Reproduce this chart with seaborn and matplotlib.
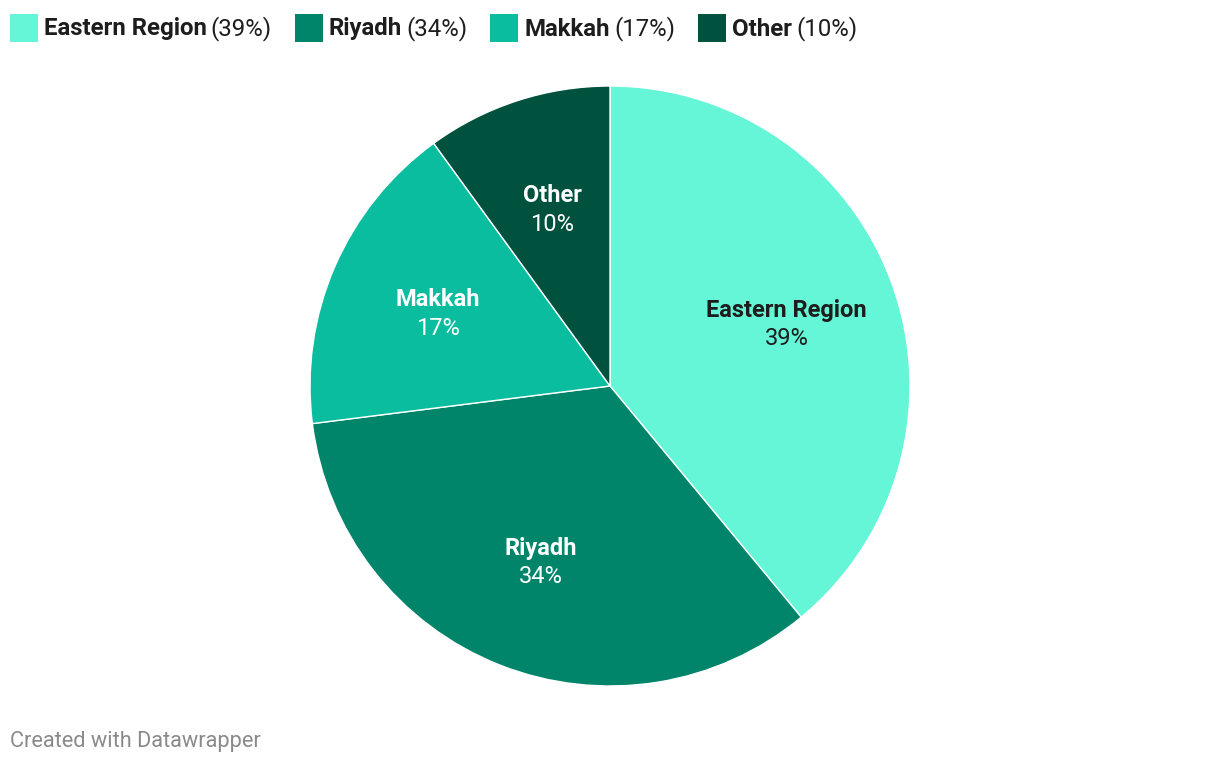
import matplotlib
matplotlib.use("Agg")
import matplotlib.pyplot as plt
import seaborn as sns
from matplotlib.patches import Rectangle
import numpy as np

categories = ["Eastern Region", "Riyadh", "Makkah", "Other"]
shares = [39, 34, 17, 10]
colors = ["#65f5d7", "#00856b", "#0bbd9f", "#00523f"]
label_colors = ["#1d1d1d", "white", "white", "white"]

sns.set_theme(style="white")
plt.rcParams['font.family'] = ['Roboto', 'DejaVu Sans']

W, H = 1220, 762
fig = plt.figure(figsize=(W / 100, H / 100), dpi=100)
fig.patch.set_facecolor("white")

cx, cy, r = 610, 386, 300
ax = fig.add_axes([(cx - r) / W, (H - cy - r) / H, 2 * r / W, 2 * r / H])
wedges, _ = ax.pie(shares, colors=colors, startangle=90, counterclock=False,
                   wedgeprops=dict(edgecolor="white", linewidth=1.0))
ax.set_aspect("equal")
ax.set_xlim(-1, 1)
ax.set_ylim(-1, 1)
ax.axis("off")

start = 90.0
total = sum(shares)
for name, val, tc in zip(categories, shares, label_colors):
    span = 360.0 * val / total
    mid = np.deg2rad(start - span / 2)
    start -= span
    d = 0.625
    x, y = d * np.cos(mid), d * np.sin(mid)
    ax.text(x, y + 0.04, name, ha="center", va="center", fontsize=17,
            fontweight="bold", color=tc)
    ax.text(x, y - 0.055, f"{val}%", ha="center", va="center", fontsize=17,
            color=tc)

# legend
fig.canvas.draw()
renderer = fig.canvas.get_renderer()
xpos = 10
ytop = 14
for name, val, col in zip(categories, shares, colors):
    fig.patches.append(Rectangle((xpos / W, (H - ytop - 28) / H), 28 / W, 28 / H,
                                 transform=fig.transFigure, facecolor=col,
                                 edgecolor="none"))
    xpos += 34
    t1 = fig.text(xpos / W, (H - 29) / H, name, ha="left", va="center",
                  fontsize=17.3, fontweight="bold", color="#1d1d1d")
    bb = t1.get_window_extent(renderer)
    xpos += bb.width + 4
    t2 = fig.text(xpos / W, (H - 29) / H, f"({val}%)", ha="left", va="center",
                  fontsize=17.3, color="#1d1d1d")
    bb = t2.get_window_extent(renderer)
    xpos += bb.width + 23

fig.text(10 / W, (H - 741) / H, "Created with Datawrapper", ha="left",
         va="center", fontsize=15.7, color="#8a8a8a")

fig.savefig("out.png", dpi=100, facecolor="white")
